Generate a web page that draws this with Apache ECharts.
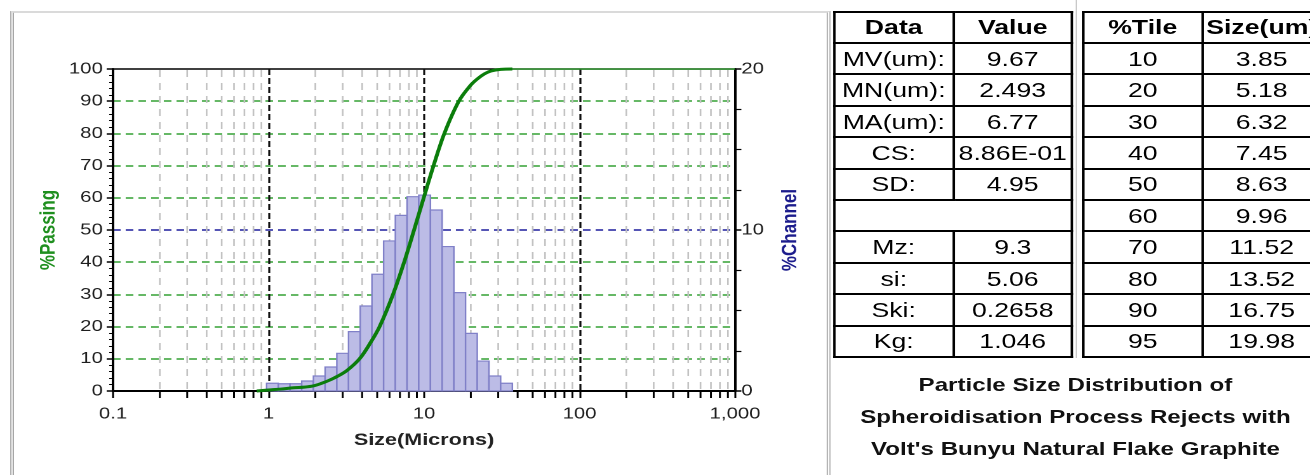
<!DOCTYPE html>
<html>
<head>
<meta charset="utf-8">
<script src="https://cdn.jsdelivr.net/npm/echarts@6/dist/echarts.min.js"></script>
<style>
html,body{margin:0;padding:0;background:#fff;overflow:hidden;}
#page{position:absolute;left:0;top:0;height:475px;transform-origin:0 0;font-family:Arial,"Liberation Sans",sans-serif;}
#frame{position:absolute;top:11px;height:470px;border-top:2px solid #dadada;border-left:3px double #a4a4a4;border-right:3px double #b4b4b4;box-sizing:border-box;}
#chart{position:absolute;left:0;top:0;height:475px;}
.tbl{position:absolute;border-collapse:collapse;table-layout:fixed;}
.tbl td{border:2px solid #000;padding:0;text-align:center;font-size:21px;color:#000;height:29.4px;line-height:28px;white-space:nowrap;}
.tbl td.h{font-weight:bold;}
#sep{position:absolute;top:0;height:358px;width:1px;background:#c8c8c8;}
#title{position:absolute;top:369px;text-align:center;font-weight:bold;font-size:19px;line-height:32px;color:#111;}
</style>
</head>
<body>
<div id="page">
  <div id="frame"></div>
  <div id="chart"></div>
  <div id="sep"></div>
  <table class="tbl" id="statTbl"></table>
  <table class="tbl" id="tileTbl"></table>
  <div id="title">Particle Size Distribution of<br>Spheroidisation Process Rejects with<br>Volt's Bunyu Natural Flake Graphite</div>
</div>
<script>
// horizontal stretch of the original screenshot
var S = 1.27;
function sx(px){ return px / S; }

// histogram channels (microns) and % channel
var channelEdges = [0.972, 1.156, 1.375, 1.635, 1.945, 2.312, 2.75, 3.27, 3.889, 4.625, 5.5, 6.541, 7.778, 9.25, 11, 13.08, 15.56, 18.5, 22, 26.16, 31.11, 37];
var channelPct = [0.48, 0.45, 0.45, 0.62, 0.93, 1.49, 2.34, 3.69, 5.28, 7.25, 9.32, 10.91, 12.07, 12.17, 11.24, 8.97, 6.11, 3.58, 1.86, 0.93, 0.48];

// cumulative % passing
var passSize = [0.84, 1.0, 1.2, 1.45, 1.7, 1.95, 2.2, 2.45, 2.76, 3.2, 3.85, 4.5, 5.18, 6.32, 7.45, 8.63, 9.96, 11.52, 13.52, 16.75, 19.98, 22.0, 24.5, 27.0, 31.1, 37.0, 1000];
var passPct = [0, 0.3, 0.6, 1.0, 1.2, 1.6, 2.4, 3.3, 4.5, 6.4, 10, 14.8, 20, 30, 40, 50, 60, 70, 80, 90, 95, 96.9, 98.5, 99.4, 99.9, 100, 100];

// x grid: decades and the 2..9 steps inside each
var decades = [0.1, 1, 10, 100];
var minorSteps = [2, 3, 4, 5, 6, 7, 8, 9];

// tables
var statNames = ['MV(um):', 'MN(um):', 'MA(um):', 'CS:', 'SD:', '', 'Mz:', 'si:', 'Ski:', 'Kg:'];
var statValues = ['9.67', '2.493', '6.77', '8.86E-01', '4.95', '', '9.3', '5.06', '0.2658', '1.046'];
var tilePct = ['10', '20', '30', '40', '50', '60', '70', '80', '90', '95'];
var tileSize = ['3.85', '5.18', '6.32', '7.45', '8.63', '9.96', '11.52', '13.52', '16.75', '19.98'];

var page = document.getElementById('page');
page.style.width = sx(1310) + 'px';
page.style.transform = 'scaleX(' + S + ')';
var chartDom = document.getElementById('chart');
chartDom.style.width = sx(1310) + 'px';
var frame = document.getElementById('frame');
frame.style.left = sx(10) + 'px';
frame.style.width = sx(831 - 10) + 'px';
document.getElementById('sep').style.left = sx(1076) + 'px';
var title = document.getElementById('title');
title.style.left = sx(833) + 'px';
title.style.width = sx(1318 - 833) + 'px';

function buildTable(id, left, colW, head, colA, colB){
	var t = document.getElementById(id);
	t.style.left = sx(left) + 'px';
	t.style.top = '10.7px';
	t.style.width = sx(colW * 2) + 'px';
	var html = '<colgroup><col style="width:' + sx(colW) + 'px"><col style="width:' + sx(colW) + 'px"></colgroup>';
	html += '<tr><td class="h">' + head[0] + '</td><td class="h">' + head[1] + '</td></tr>';
	for (var i = 0; i < colA.length; i++) {
		if (colA[i] === '' && colB[i] === '') {
			html += '<tr><td colspan="2"></td></tr>';
		} else {
			html += '<tr><td>' + colA[i] + '</td><td>' + colB[i] + '</td></tr>';
		}
	}
	t.innerHTML = html;
}
buildTable('statTbl', 833, 119, ['Data', 'Value'], statNames, statValues);
buildTable('tileTbl', 1082, 119, ['%Tile', 'Size(um)'], tilePct, tileSize);

var histData = [];
for (var i = 0; i < channelPct.length; i++) {
	histData.push([channelEdges[i], channelEdges[i + 1], channelPct[i]]);
}
var curveData = [], flatData = [];
for (var i = 0; i < passSize.length; i++) {
	if (passPct[i] < 100 || (i > 0 && passPct[i - 1] < 100)) curveData.push([passSize[i], passPct[i]]);
	if (passPct[i] >= 100) flatData.push([passSize[i], passPct[i]]);
}
var minorData = [];
decades.forEach(function(d){
	minorSteps.forEach(function(m){ minorData.push([+(d * m).toPrecision(3)]); });
});

// green dashed lines, blue one at 50 (10 %channel), none on the frame
var hColors = ['rgba(0,0,0,0)', '#33a033', '#33a033', '#33a033', '#33a033', '#1c1c9c', '#33a033', '#33a033', '#33a033', '#33a033', 'rgba(0,0,0,0)'];

var myChart = echarts.init(chartDom, null, {renderer: 'canvas', devicePixelRatio: 2});
var option = {
	animation: false,
	textStyle: {fontFamily: 'Arial, "Liberation Sans", sans-serif'},
	grid: {
		left: sx(113), top: 69, width: sx(735 - 113), height: 322,
		show: true, borderColor: '#000', borderWidth: 1.5
	},
	xAxis: {
		type: 'log', logBase: 10, min: 0.1, max: 1000,
		axisLine: {lineStyle: {color: '#000', width: 2}},
		axisTick: {length: 7, lineStyle: {color: '#000', width: 1.5}},
		axisLabel: {
			color: '#1e1e1e', fontSize: 16, margin: 15,
			formatter: function(v){ return Number(v.toPrecision(3)).toLocaleString('en-US', {maximumFractionDigits: 2}); }
		},
		splitLine: {show: true, lineStyle: {color: '#111', type: [6, 3], width: 1.6}},
		name: 'Size(Microns)', nameLocation: 'middle', nameGap: 41,
		nameTextStyle: {color: '#222', fontWeight: 'bold', fontSize: 17}
	},
	yAxis: [{
		type: 'value', min: 0, max: 100, interval: 10, position: 'left',
		axisLine: {show: true, lineStyle: {color: '#000', width: 2}},
		axisTick: {show: true, length: 5, lineStyle: {color: '#000', width: 1.5}},
		minorTick: {show: true, splitNumber: 5, length: 3, lineStyle: {color: '#000', width: 1}},
		axisLabel: {color: '#1e1e1e', fontSize: 16, margin: 8},
		splitLine: {show: true, showMinLine: true, showMaxLine: true, lineStyle: {color: hColors, type: [6, 4], width: 1.5}},
		name: '%Passing', nameLocation: 'middle', nameGap: 42,
		nameTextStyle: {color: '#1f8f1f', fontWeight: 'bold', fontSize: 17}
	}, {
		type: 'value', min: 0, max: 20, interval: 10, position: 'right',
		axisLine: {show: true, lineStyle: {color: '#000', width: 2}},
		axisTick: {show: true, length: 5, lineStyle: {color: '#000', width: 1.5}},
		minorTick: {show: true, splitNumber: 4, length: 5, lineStyle: {color: '#000', width: 1.2}},
		axisLabel: {color: '#1e1e1e', fontSize: 16, margin: 5},
		splitLine: {show: false},
		name: '%Channel', nameLocation: 'middle', nameGap: 35,
		nameTextStyle: {color: '#1c1c8c', fontWeight: 'bold', fontSize: 17}
	}],
	series: [{
		// minor vertical grid + minor ticks under the x axis
		type: 'custom', xAxisIndex: 0, yAxisIndex: 0, z: 1, silent: true,
		renderItem: function(params, api){
			var top = api.coord([api.value(0), 100]);
			var bot = api.coord([api.value(0), 0]);
			return {type: 'group', children: [
				{type: 'line', shape: {x1: top[0], y1: top[1] + 1, x2: bot[0], y2: bot[1] - 1}, style: {stroke: '#c2c2c2', lineWidth: 1.3, lineDash: [7, 6]}},
				{type: 'line', shape: {x1: bot[0], y1: bot[1], x2: bot[0], y2: bot[1] + 7}, style: {stroke: '#000', lineWidth: 1.5}}
			]};
		},
		data: minorData
	}, {
		type: 'custom', xAxisIndex: 0, yAxisIndex: 1, z: 3,
		renderItem: function(params, api){
			var p0 = api.coord([api.value(0), api.value(2)]);
			var p1 = api.coord([api.value(1), 0]);
			return {type: 'rect', shape: {x: p0[0], y: p0[1], width: p1[0] - p0[0], height: p1[1] - p0[1]},
				style: {fill: '#bcbce6', stroke: '#8080c8', lineWidth: 1.2}};
		},
		encode: {x: [0, 1], y: 2},
		data: histData
	}, {
		type: 'line', xAxisIndex: 0, yAxisIndex: 0, z: 4,
		showSymbol: false, smooth: 0.35,
		lineStyle: {color: '#0b7d0b', width: 3},
		data: curveData
	}, {
		type: 'line', xAxisIndex: 0, yAxisIndex: 0, z: 4,
		showSymbol: false,
		lineStyle: {color: '#2b9a2b', width: 1.6},
		data: flatData
	}]
};
myChart.setOption(option);
</script>
</body>
</html>
